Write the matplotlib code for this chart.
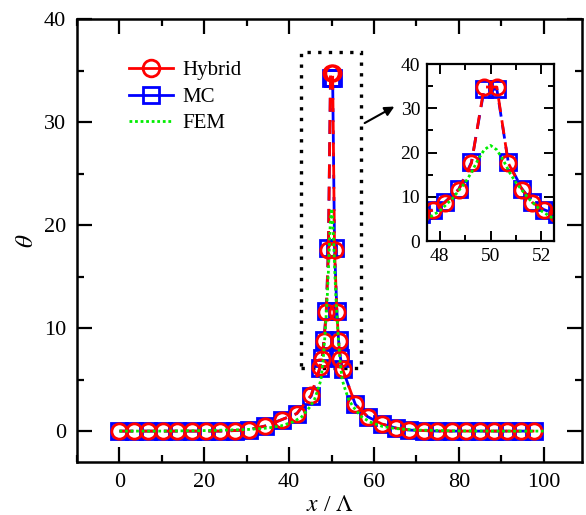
import matplotlib
matplotlib.use("Agg")
import matplotlib.pyplot as plt
from matplotlib.ticker import MultipleLocator
from matplotlib.patches import Rectangle
from matplotlib.lines import Line2D

plt.rcParams["font.family"] = ["Liberation Serif", "DejaVu Serif"]
plt.rcParams["mathtext.fontset"] = "stix"

# sampled positions (x / Lambda) of the Hybrid and MC solutions
x_pts = [0, 3.4, 6.8, 10.2, 13.6, 17.0, 20.4, 23.8, 27.2, 30.6, 34.4, 38.2, 41.8, 45.2,
         47.25, 47.75, 48.2, 48.75, 49.25, 49.75, 50.25, 50.7, 51.25, 51.65, 52.1, 52.6,
         55.6, 58.5, 61.8, 65.1, 68.3, 71.7, 74.9, 78.3, 81.6, 84.9, 88.2, 91.4, 94.7, 97.8]
theta_hybrid = [0, 0, 0, 0, 0, 0, 0, 0, 0.05, 0.15, 0.5, 1.1, 1.7, 3.5,
                6.2, 7.0, 8.7, 11.6, 17.6, 34.8, 34.8, 17.6, 11.6, 8.7, 7.0, 6.0,
                2.6, 1.4, 0.7, 0.3, 0.1, 0.05, 0, 0, 0, 0, 0, 0, 0, 0]
theta_mc = [0, 0, 0, 0, 0, 0, 0, 0, 0.05, 0.15, 0.5, 1.1, 1.7, 3.4,
            6.1, 7.1, 8.8, 11.7, 17.8, 34.3, 34.3, 17.8, 11.7, 8.8, 7.1, 6.0,
            2.6, 1.4, 0.7, 0.3, 0.1, 0.05, 0, 0, 0, 0, 0, 0, 0, 0]

# FEM reference curve
x_fem = [0, 10, 20, 30, 35, 38, 41, 43, 45, 46, 47, 47.5, 48, 48.5, 49, 49.25, 49.5,
         49.75, 50, 50.25, 50.5, 50.75, 51, 51.5, 52, 52.5, 53, 54, 55, 57, 59, 62,
         65, 70, 80, 90, 100]
theta_fem = [0, 0, 0.05, 0.15, 0.3, 0.5, 0.9, 1.4, 2.4, 3.1, 4.3, 5.0, 6.8, 9.6, 13.2,
             15.5, 18.3, 20.6, 21.6, 20.6, 18.3, 15.5, 13.2, 9.6, 6.8, 5.0, 4.3, 3.1,
             2.4, 1.4, 0.9, 0.45, 0.25, 0.1, 0.02, 0, 0]

series_names = ["Hybrid", "MC", "FEM"]

fig = plt.figure(figsize=(5.86, 5.15), dpi=100)
ax = fig.add_axes([0.1314, 0.1029, 0.8616, 0.8602])

red = "#ff0000"
blue = "#0000ff"
green = "#00ee00"


def draw_series(a, ms):
    a.plot(x_pts, theta_mc, color=blue, ls=(0, (5, 3)), lw=2, marker="s", ms=ms,
           mfc="none", mec=blue, mew=2)
    a.plot(x_pts, theta_hybrid, color=red, ls=(0, (5, 3)), lw=2, marker="o", ms=ms,
           mfc="none", mec=red, mew=2)
    a.plot(x_fem, theta_fem, color=green, ls=(0, (1, 1)), lw=2)


draw_series(ax, 11)

ax.set_xlim(-10, 109)
ax.set_ylim(-3, 40)
ax.xaxis.set_major_locator(MultipleLocator(20))
ax.xaxis.set_minor_locator(MultipleLocator(10))
ax.yaxis.set_major_locator(MultipleLocator(10))
ax.yaxis.set_minor_locator(MultipleLocator(5))
ax.tick_params(which="both", direction="in", top=True, right=True, width=1.6,
               labelsize=16, pad=8)
ax.tick_params(which="major", length=11)
ax.tick_params(which="minor", length=5)
for s in ax.spines.values():
    s.set_linewidth(1.8)
ax.set_xlabel(r"$x$ / $\Lambda$", fontsize=17, labelpad=2)
ax.set_ylabel(r"$\theta$", fontsize=18, labelpad=4)

# zoom window around the peak
ax.add_patch(Rectangle((42.8, 6.1), 14.1, 30.7, fill=False, ec="black", lw=2.4,
                       ls=(0, (1, 2.2))))
ax.annotate("", xy=(64.8, 31.5), xytext=(57.8, 29.9),
            arrowprops=dict(arrowstyle="-|>", color="black", lw=1.5,
                            mutation_scale=14, shrinkA=0, shrinkB=0))

# legend keys drawn with solid connecting lines
handles = [
    Line2D([], [], color=red, lw=2, marker="o", ms=12, mfc="none", mec=red, mew=2),
    Line2D([], [], color=blue, lw=2, marker="s", ms=11, mfc="none", mec=blue, mew=2),
    Line2D([], [], color=green, lw=2, ls=(0, (1, 1))),
]
ax.legend(handles, series_names, loc="upper left", bbox_to_anchor=(0.066, 0.948),
          frameon=False, fontsize=15, handlelength=2.1, handletextpad=0.45,
          labelspacing=0.33)

# inset
ins = fig.add_axes([0.7287, 0.532, 0.2167, 0.3437])
draw_series(ins, 11)
ins.set_xlim(47.5, 52.5)
ins.set_ylim(0, 40)
ins.xaxis.set_major_locator(MultipleLocator(2))
ins.xaxis.set_minor_locator(MultipleLocator(1))
ins.yaxis.set_major_locator(MultipleLocator(10))
ins.yaxis.set_minor_locator(MultipleLocator(5))
ins.tick_params(which="both", direction="in", top=True, right=True, width=1.4,
                labelsize=14, pad=5)
ins.tick_params(which="major", length=7)
ins.tick_params(which="minor", length=4)
for s in ins.spines.values():
    s.set_linewidth(1.6)

fig.savefig("out.png", dpi=100)
